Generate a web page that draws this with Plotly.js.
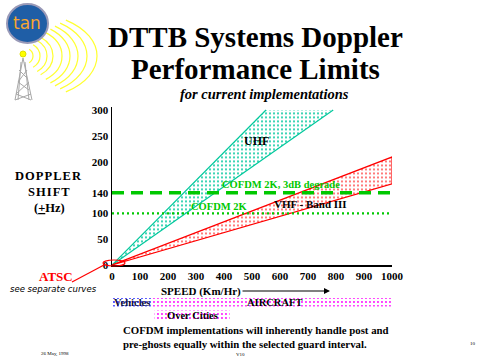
<!DOCTYPE html>
<html>
<head>
<meta charset="utf-8">
<script src="https://cdn.plot.ly/plotly-3.0.1.min.js"></script>
<style>html,body{margin:0;padding:0;background:#fff;}#chart{width:480px;height:360px;}</style>
</head>
<body>
<div id="chart"></div>
<script>
// ---- data ----
const speedTicks   = [0, 100, 200, 300, 400, 500, 600, 700, 800, 900, 1000];
const dopplerTicks = [0, 50, 100, 140, 200, 250, 300];
const uhfSpeed     = [0, 550, 790];
const uhfShift     = [0, 300, 300];
const vhfSpeed     = [0, 1000, 1000];
const vhfShift     = [0, 209, 157];
const cofdm2kLimit = [100, 100];
const cofdm3dbLimit = [140, 140];
const limitSpeed   = [0, 1000];
const vehiclesBand = [0, 143];
const aircraftBand = [143, 1000];
const citiesBand   = [152, 420];

// ---- helpers (pixel -> paper) ----
const W = 480, H = 360;
const px = x => x / W;
const py = y => 1 - y / H;
const serif = 'Liberation Serif, Times New Roman, serif';

const cyan = '#00c89c', red = '#ff0000', green = '#00c800';

function closed(xs, ys) { return {x: xs.concat([xs[0]]), y: ys.concat([ys[0]])}; }

const uhfPoly = closed(uhfSpeed, uhfShift);
const vhfPoly = closed(vhfSpeed, vhfShift);

function band(r, top, bot) {
  return {x: [r[0], r[1], r[1], r[0], r[0]], y: [top, top, bot, bot, top]};
}
const vb = band(vehiclesBand, 298, 306.5);
const ab = band(aircraftBand, 298, 306.5);
const cb = band(citiesBand, 310.5, 320.5);

const dots = (c, s) => ({shape: '.', fgcolor: c, bgcolor: 'white', size: 4, solidity: s || 0.18});

const traces = [
  {x: uhfPoly.x, y: uhfPoly.y, type: 'scatter', mode: 'lines', fill: 'toself',
   fillcolor: 'rgba(0,0,0,0)', line: {width: 0, color: cyan}, fillpattern: dots(cyan, 0.2)},
  {x: [uhfSpeed[0], uhfSpeed[1]], y: [uhfShift[0], uhfShift[1]], type: 'scatter', mode: 'lines',
   line: {color: cyan, width: 1.2}},
  {x: [uhfSpeed[0], uhfSpeed[2]], y: [uhfShift[0], uhfShift[2]], type: 'scatter', mode: 'lines',
   line: {color: cyan, width: 1.2}},
  {x: vhfPoly.x, y: vhfPoly.y, type: 'scatter', mode: 'lines', fill: 'toself',
   fillcolor: 'rgba(0,0,0,0)', line: {width: 1.2, color: red}, fillpattern: dots(red, 0.14)},
  {x: limitSpeed, y: cofdm2kLimit, type: 'scatter', mode: 'lines',
   line: {color: green, width: 2.2, dash: '2px,3px'}},
  {x: limitSpeed, y: cofdm3dbLimit, type: 'scatter', mode: 'lines',
   line: {color: green, width: 3.5, dash: '12px,7px'}},
  // bands under the speed axis (full-page helper subplot sharing the speed scale)
  {x: vb.x, y: vb.y, xaxis: 'x2', yaxis: 'y2', type: 'scatter', mode: 'lines', fill: 'toself',
   fillcolor: 'rgba(0,0,0,0)', line: {width: 0}, fillpattern: dots('#2020ff')},
  {x: ab.x, y: ab.y, xaxis: 'x2', yaxis: 'y2', type: 'scatter', mode: 'lines', fill: 'toself',
   fillcolor: 'rgba(0,0,0,0)', line: {width: 0}, fillpattern: dots('#ff00ff')},
  {x: cb.x, y: cb.y, xaxis: 'x2', yaxis: 'y2', type: 'scatter', mode: 'lines', fill: 'toself',
   fillcolor: 'rgba(0,0,0,0)', line: {width: 0}, fillpattern: dots('#ff00ff')}
];

const tickFont = {family: serif, size: 11, color: 'black', weight: 'bold'};

// ---- logo shapes ----
const shapes = [];
const grey = '#a8a8a8';
const tw = [
  [23,58,15,100],[23,58,32,100],[21,62,18,100],[25,62,29,100],
  [19,70,27,78],[27,70,18,82],[18,82,29,90],[29,82,16,94],[16,94,31,100],[31,94,15,100]
];
tw.forEach(s => shapes.push({type: 'line', xref: 'paper', yref: 'paper',
  x0: px(s[0]), y0: py(s[1]), x1: px(s[2]), y1: py(s[3]), line: {color: grey, width: 1}}));
const cx = 24, cy = 56;
const radii = [9, 16, 23, 29, 38, 46, 54, 63, 73];
radii.forEach((r, i) => {
  const th = 55 * Math.PI / 180;
  const ratio = 0.9 - 0.3 * i / (radii.length - 1);
  const k = 4 / 3 * Math.tan(th / 2);
  const ex = a => cx + r * Math.cos(a), ey = a => cy + ratio * r * Math.sin(a);
  const x0 = ex(-th), y0 = ey(-th), x3 = ex(th), y3 = ey(th);
  const c1x = x0 + k * r * Math.sin(th), c1y = y0 + ratio * k * r * Math.cos(th);
  const c2x = x3 + k * r * Math.sin(th), c2y = y3 - ratio * k * r * Math.cos(th);
  const P = (x, y) => px(x).toFixed(5) + ',' + py(y).toFixed(5);
  shapes.push({type: 'path', xref: 'paper', yref: 'paper',
    path: 'M' + P(x0, y0) + ' C' + P(c1x, c1y) + ' ' + P(c2x, c2y) + ' ' + P(x3, y3),
    line: {color: '#ffff30', width: 1.2}});
});
shapes.push({type: 'circle', xref: 'paper', yref: 'paper', x0: px(20), x1: px(26), y0: py(51), y1: py(57),
  fillcolor: '#ffff00', line: {color: '#e0e000', width: 1}});
shapes.push({type: 'circle', xref: 'paper', yref: 'paper', x0: px(7), x1: px(48), y0: py(43), y1: py(4),
  fillcolor: '#1f5ea6', line: {color: '#9a9ab8', width: 2}});
shapes.push({type: 'circle', xref: 'paper', yref: 'paper', x0: px(103), x1: px(125), y0: py(266), y1: py(260),
  line: {color: red, width: 1.2}});
shapes.push({type: 'line', xref: 'paper', yref: 'paper', x0: px(72), y0: py(282), x1: px(104), y1: py(265),
  line: {color: red, width: 1.2}});

function T(text, x, y, size, opts) {
  opts = opts || {};
  return Object.assign({text: text, xref: 'paper', yref: 'paper', x: px(x), y: py(y),
    showarrow: false, xanchor: 'center', yanchor: 'middle',
    font: {family: opts.family || serif, size: size, color: opts.color || 'black',
      weight: opts.weight || 'bold', style: opts.style || 'normal'}}, opts.extra || {});
}
const hs = '\u200a';
const spaced = s => s.split('').join(hs);

const annotations = [
  T('tan', 27, 23, 17, {family: 'DejaVu Sans, sans-serif', color: '#f7a531', weight: 'normal'}),
  T('DTTB Systems Doppler', 255, 37, 29),
  T('Performance Limits', 255, 69, 29),
  T('for current implementations', 264, 94.5, 14.5, {style: 'italic'}),
  T(spaced('DOPPLER'), 48, 176, 12.5),
  T(spaced('SHIFT'), 49, 192, 12.5),
  T('(<u>+</u>Hz)', 49, 208, 12.5),
  T('UHF', 256, 141, 12),
  T('COFDM 2K, 3dB degrade', 281, 184, 10.5, {color: green}),
  T('COFDM 2K', 219, 206, 10.5, {color: green}),
  T('VHF - Band III', 310, 204, 11),
  T('ATSC', 56, 276, 13, {color: red}),
  T('see separate curves', 53, 289, 8.5, {family: 'DejaVu Sans, sans-serif', weight: 'normal', style: 'italic'}),
  T('SPEED (Km/Hr)', 201, 291, 11),
  {text: '', xref: 'paper', yref: 'paper', axref: 'paper', ayref: 'paper',
   x: px(330), y: py(291), ax: px(241), ay: py(291), showarrow: true,
   arrowhead: 2, arrowsize: 1, arrowwidth: 1.2, arrowcolor: 'black'},
  T('Vehicles', 132, 302, 10.5, {color: '#101040'}),
  T('AIRCRAFT', 274, 302, 10.5),
  T('Over Cities', 192, 315.5, 10.5),
  T('COFDM implementations will inherently handle post and', 256, 330, 10.8),
  T('pre-ghosts equally within the selected guard interval.', 245, 344, 10.8),
  T('26 May, 1998', 55, 354, 5, {weight: 'normal'}),
  T('V10', 240, 354, 5, {weight: 'normal'}),
  T('10', 473, 343, 5, {weight: 'normal'})
];

const layout = {
  width: W, height: H,
  margin: {l: 0, r: 0, t: 0, b: 0},
  paper_bgcolor: 'white', plot_bgcolor: 'rgba(0,0,0,0)',
  showlegend: false,
  xaxis: {domain: [112 / W, 392 / W], range: [0, 1000], showline: true, linecolor: 'black', linewidth: 1.5,
    showgrid: false, zeroline: false, ticks: '', tickvals: speedTicks, tickfont: tickFont, anchor: 'y',
    fixedrange: true},
  yaxis: {domain: [(H - 265) / H, (H - 107.4) / H], range: [0, 305], showline: true, linecolor: 'black',
    linewidth: 1.5, showgrid: false, zeroline: false, ticks: '', tickvals: dopplerTicks, tickfont: tickFont,
    anchor: 'x', fixedrange: true},
  xaxis2: {domain: [0, 1], range: [-112 / 0.28, (W - 112) / 0.28], visible: false, anchor: 'y2', fixedrange: true},
  yaxis2: {domain: [0, 1], range: [H, 0], visible: false, anchor: 'x2', fixedrange: true},
  shapes: shapes,
  annotations: annotations
};

Plotly.newPlot('chart', traces, layout, {displayModeBar: false, staticPlot: true});
</script>
</body>
</html>
